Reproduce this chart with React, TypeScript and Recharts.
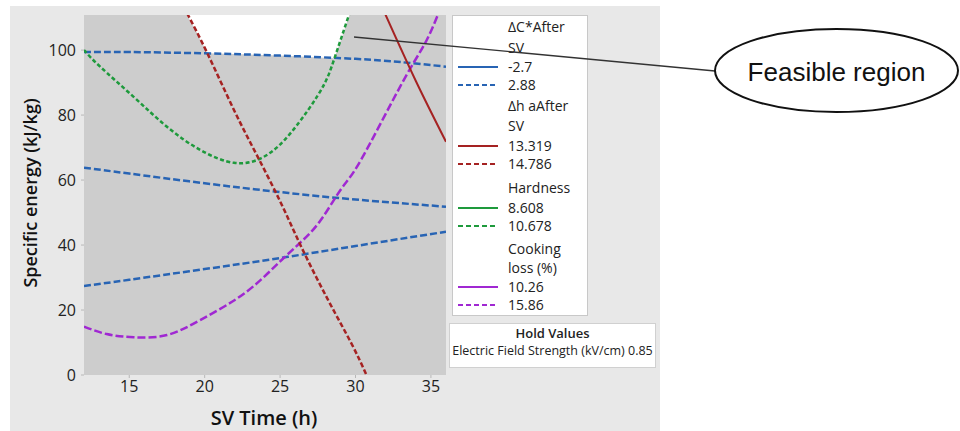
import { Area, CartesianGrid, ComposedChart, Line, XAxis, YAxis } from "recharts";

// contour lines (x = SV time h, y = specific energy kJ/kg)
const deltaCUpper = [
  { x: 12, y: 99.4 },
  { x: 15, y: 99.4 },
  { x: 20, y: 99.0 },
  { x: 25, y: 98.3 },
  { x: 30, y: 97.3 },
  { x: 33, y: 96.3 },
  { x: 36, y: 94.9 },
];
const deltaCMiddle = [
  { x: 12, y: 63.8 },
  { x: 15, y: 62.0 },
  { x: 20, y: 59.0 },
  { x: 25, y: 56.3 },
  { x: 30, y: 54.0 },
  { x: 36, y: 51.8 },
];
const deltaCLower = [
  { x: 12, y: 27.4 },
  { x: 15, y: 29.3 },
  { x: 20, y: 32.6 },
  { x: 25, y: 36.0 },
  { x: 30, y: 39.7 },
  { x: 36, y: 44.1 },
];
const deltaHDashed = [
  { x: 18.84, y: 111.3 },
  { x: 20.18, y: 99 },
  { x: 21.95, y: 81.5 },
  { x: 23.51, y: 67.2 },
  { x: 25.07, y: 52.8 },
  { x: 26.4, y: 39.5 },
  { x: 28.18, y: 23.1 },
  { x: 29.73, y: 9.7 },
  { x: 30.73, y: 0 },
];
const deltaHSolid = [
  { x: 31.95, y: 111.3 },
  { x: 34, y: 90.5 },
  { x: 36, y: 71.8 },
];
const hardnessDashed = [
  { x: 12, y: 100 },
  { x: 13.07, y: 94.9 },
  { x: 15.29, y: 85.6 },
  { x: 17.5, y: 76.4 },
  { x: 19.73, y: 69.2 },
  { x: 21.95, y: 65.3 },
  { x: 23.73, y: 66.7 },
  { x: 25.29, y: 72.3 },
  { x: 26.85, y: 81.5 },
  { x: 27.95, y: 89.7 },
  { x: 28.6, y: 97.4 },
  { x: 29.6, y: 111.3 },
];
const cookingDashed = [
  { x: 12, y: 14.9 },
  { x: 13.5, y: 12.6 },
  { x: 15.3, y: 11.6 },
  { x: 17.5, y: 12.3 },
  { x: 19.7, y: 16.9 },
  { x: 22, y: 23.1 },
  { x: 23.7, y: 29.2 },
  { x: 25.1, y: 35.4 },
  { x: 26.4, y: 41 },
  { x: 27.7, y: 47.7 },
  { x: 29.07, y: 57.4 },
  { x: 30.4, y: 66.5 },
  { x: 33.07, y: 89.7 },
  { x: 34.6, y: 102 },
  { x: 35.5, y: 111.3 },
];
// white feasible region between the contours
const feasible = [
  { x: 18.84, low: 110.8, high: 110.8 },
  { x: 19.5, low: 105.2, high: 110.8 },
  { x: 20.18, low: 99, high: 110.8 },
  { x: 22, low: 98.8, high: 110.8 },
  { x: 25, low: 98.3, high: 110.8 },
  { x: 28.6, low: 97.5, high: 110.8 },
  { x: 29.1, low: 104, high: 110.8 },
  { x: 29.6, low: 110.8, high: 110.8 },
];

const xTicks = [15, 20, 25, 30, 35];
const yTicks = [0, 20, 40, 60, 80, 100];

const legendRows = [
  { label: "ΔC*After", y: 27 },
  { label: "SV", y: 48 },
  { label: "-2.7", y: 67, color: "#2864b4", dashed: false },
  { label: "2.88", y: 85, color: "#2864b4", dashed: true },
  { label: "Δh aAfter", y: 106 },
  { label: "SV", y: 126 },
  { label: "13.319", y: 146, color: "#a52222", dashed: false },
  { label: "14.786", y: 164, color: "#a52222", dashed: true },
  { label: "Hardness", y: 188 },
  { label: "8.608", y: 208, color: "#1e9a3c", dashed: false },
  { label: "10.678", y: 226, color: "#1e9a3c", dashed: true },
  { label: "Cooking", y: 249 },
  { label: "loss (%)", y: 268 },
  { label: "10.26", y: 287, color: "#a028d2", dashed: false },
  { label: "15.86", y: 305, color: "#a028d2", dashed: true },
];

const font = "'Open Sans', 'Noto Sans', sans-serif";

export default function App() {
  return (
    <div
      style={{
        position: "absolute",
        left: 0,
        top: 0,
        width: 960,
        height: 431,
        background: "#ffffff",
        fontFamily: font,
        overflow: "hidden",
      }}
    >
      <div
        style={{ position: "absolute", left: 10, top: 6, width: 650, height: 425, background: "#e8e8e8" }}
      />
      <div style={{ position: "absolute", left: 0, top: 0 }}>
        <ComposedChart
          width={960}
          height={431}
          margin={{ top: 15, right: 514, bottom: 26, left: 0 }}
        >
          <CartesianGrid horizontal={false} vertical={false} fill="#cdcdcd" />
          <XAxis
            type="number"
            dataKey="x"
            domain={[12, 36]}
            ticks={xTicks}
            allowDataOverflow
            height={30}
            axisLine={false}
            tickLine={{ stroke: "#b8b8b8" }}
            tickSize={3}
            tickMargin={3}
            tick={{ fontSize: 16, fill: "#222", fontFamily: font, fontWeight: 500 }}
          />
          <YAxis
            type="number"
            domain={[0, 110.8]}
            ticks={yTicks}
            allowDataOverflow
            width={84}
            axisLine={false}
            tickLine={{ stroke: "#b8b8b8" }}
            tickSize={3}
            tickMargin={5}
            tick={{ fontSize: 16, fill: "#222", fontFamily: font, fontWeight: 500 }}
          />
          <Area
            data={feasible}
            dataKey={(d: { low: number; high: number }) => [d.low, d.high]}
            type="linear"
            fill="#ffffff"
            fillOpacity={1}
            stroke="none"
            isAnimationActive={false}
          />
          <Line data={deltaCUpper} dataKey="y" type="natural" stroke="#2864b4" strokeWidth={2.5} strokeDasharray="7 3" dot={false} isAnimationActive={false} />
          <Line data={deltaCMiddle} dataKey="y" type="natural" stroke="#2864b4" strokeWidth={2.5} strokeDasharray="7 3" dot={false} isAnimationActive={false} />
          <Line data={deltaCLower} dataKey="y" type="natural" stroke="#2864b4" strokeWidth={2.5} strokeDasharray="7 3" dot={false} isAnimationActive={false} />
          <Line data={hardnessDashed} dataKey="y" type="natural" stroke="#1e9a3c" strokeWidth={2.5} strokeDasharray="4 2.5" dot={false} isAnimationActive={false} />
          <Line data={cookingDashed} dataKey="y" type="natural" stroke="#a028d2" strokeWidth={2.5} strokeDasharray="8 3" dot={false} isAnimationActive={false} />
          <Line data={deltaHDashed} dataKey="y" type="natural" stroke="#a52222" strokeWidth={2.5} strokeDasharray="5 2.5" dot={false} isAnimationActive={false} />
          <Line data={deltaHSolid} dataKey="y" type="natural" stroke="#a52222" strokeWidth={2} dot={false} isAnimationActive={false} />
        </ComposedChart>
      </div>

      {/* axis titles */}
      <div
        style={{
          position: "absolute",
          left: 30,
          top: 193,
          transform: "translate(-50%, -50%) rotate(-90deg)",
          whiteSpace: "nowrap",
          fontSize: 18,
          fontWeight: 600,
          color: "#111",
        }}
      >
        Specific energy (kJ/kg)
      </div>
      <div
        style={{
          position: "absolute",
          left: 264,
          top: 417,
          transform: "translate(-50%, -50%)",
          whiteSpace: "nowrap",
          fontSize: 20,
          fontWeight: 600,
          color: "#111",
        }}
      >
        SV Time (h)
      </div>

      {/* legend */}
      <div
        style={{
          position: "absolute",
          left: 452,
          top: 15,
          width: 136,
          height: 301,
          background: "#fff",
          border: "1px solid #c8c8c8",
          boxSizing: "border-box",
        }}
      />
      {legendRows.map((r, i) => (
        <div key={i}>
          {r.color && (
            <svg style={{ position: "absolute", left: 458, top: r.y - 2 }} width={42} height={4}>
              <line
                x1={0}
                y1={2}
                x2={40}
                y2={2}
                stroke={r.color}
                strokeWidth={2}
                strokeDasharray={r.dashed ? "5 3" : undefined}
              />
            </svg>
          )}
          <div
            style={{
              position: "absolute",
              left: 508,
              top: r.y - 7,
              lineHeight: "14px",
              fontSize: 14,
              fontWeight: 500,
              color: "#222",
              whiteSpace: "nowrap",
            }}
          >
            {r.label}
          </div>
        </div>
      ))}

      {/* hold values */}
      <div
        style={{
          position: "absolute",
          left: 449,
          top: 323,
          width: 207,
          height: 45,
          background: "#fff",
          border: "1px solid #d0d0d0",
          boxSizing: "border-box",
          textAlign: "center",
          color: "#222",
          whiteSpace: "nowrap",
        }}
      >
        <div style={{ fontSize: 13, fontWeight: 600, lineHeight: "13px", marginTop: 3 }}>Hold Values</div>
        <div style={{ fontSize: 12.5, fontWeight: 500, lineHeight: "13px", marginTop: 4 }}>
          Electric Field Strength (kV/cm) 0.85
        </div>
      </div>

      {/* callout */}
      <svg style={{ position: "absolute", left: 0, top: 0 }} width={960} height={431}>
        <defs>
          <marker id="head" markerWidth="10" markerHeight="8" refX="1" refY="4" orient="auto-start-reverse" markerUnits="userSpaceOnUse">
            <path d="M0,4 L10,0 L10,8 Z" fill="#111" />
          </marker>
        </defs>
        <line x1={715} y1={71} x2={354} y2={37} stroke="#333" strokeWidth={1.3} markerStart="url(#head)" />
        <ellipse cx={836.5} cy={70.5} rx={121.5} ry={41.5} fill="#fff" stroke="#111" strokeWidth={2} />
        <text
          x={836.5}
          y={72}
          textAnchor="middle"
          dominantBaseline="central"
          fontFamily="'Liberation Sans', Arial, sans-serif"
          fontSize={26}
          fill="#111"
        >
          Feasible region
        </text>
      </svg>
    </div>
  );
}
